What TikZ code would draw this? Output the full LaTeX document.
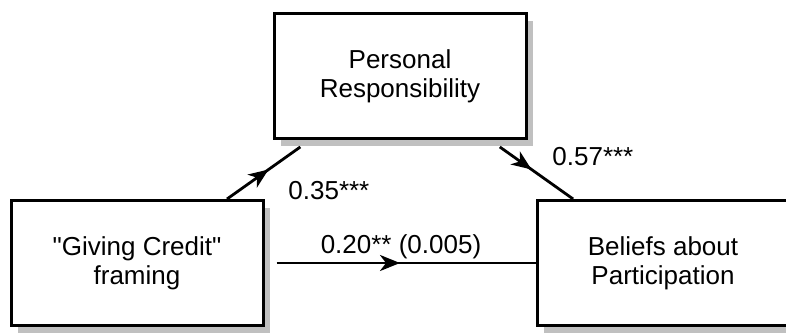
\documentclass[tikz,border=0pt]{standalone}
\usepackage{fontspec}
\setmainfont{Liberation Sans}
\usetikzlibrary{arrows.meta,shadows,decorations.markings}
\definecolor{shade}{HTML}{C0C0C0}
\tikzset{box/.style={draw=black,line width=1.5pt,fill=white,align=center,inner sep=0pt,
           minimum width=126pt,minimum height=62.5pt,font=\fontsize{13}{14.5}\selectfont,
           drop shadow={shadow xshift=3.5pt,shadow yshift=-3.8pt,fill=shade,opacity=1}},
         lbl/.style={inner sep=0pt,font=\fontsize{13}{14.5}\selectfont},
         arr/.style={black,line width=1.4pt,postaction={decorate},
           decoration={markings,mark=at position 0.5 with {\arrow{Stealth[length=10pt,width=8pt,inset=3pt]}}}}}
\begin{document}
\begin{tikzpicture}[x=0.5pt,y=-0.5pt]
 \clip (0,0) rectangle (786,333);
 \node[box] (pr) at (400,76) {Personal\\Responsibility};
 \node[box] (gc) at (137,263) {\textquotedbl Giving Credit\textquotedbl\\framing};
 \node[box] (bp) at (663,263) {Beliefs about\\Participation};
 \draw[arr,shorten >=6pt] (gc) -- (pr);
 \draw[arr,shorten <=6pt] (pr) -- (bp);
 \draw[arr,shorten <=6pt] (gc) -- (bp);
 \node[lbl,anchor=base west] (a) at (288,199) {0.35***};
 \node[lbl,anchor=base west] (b) at (552,165) {0.57***};
 \node[lbl,anchor=base] (c) at (401,253) {0.20** (0.005)};
\end{tikzpicture}
\end{document}
